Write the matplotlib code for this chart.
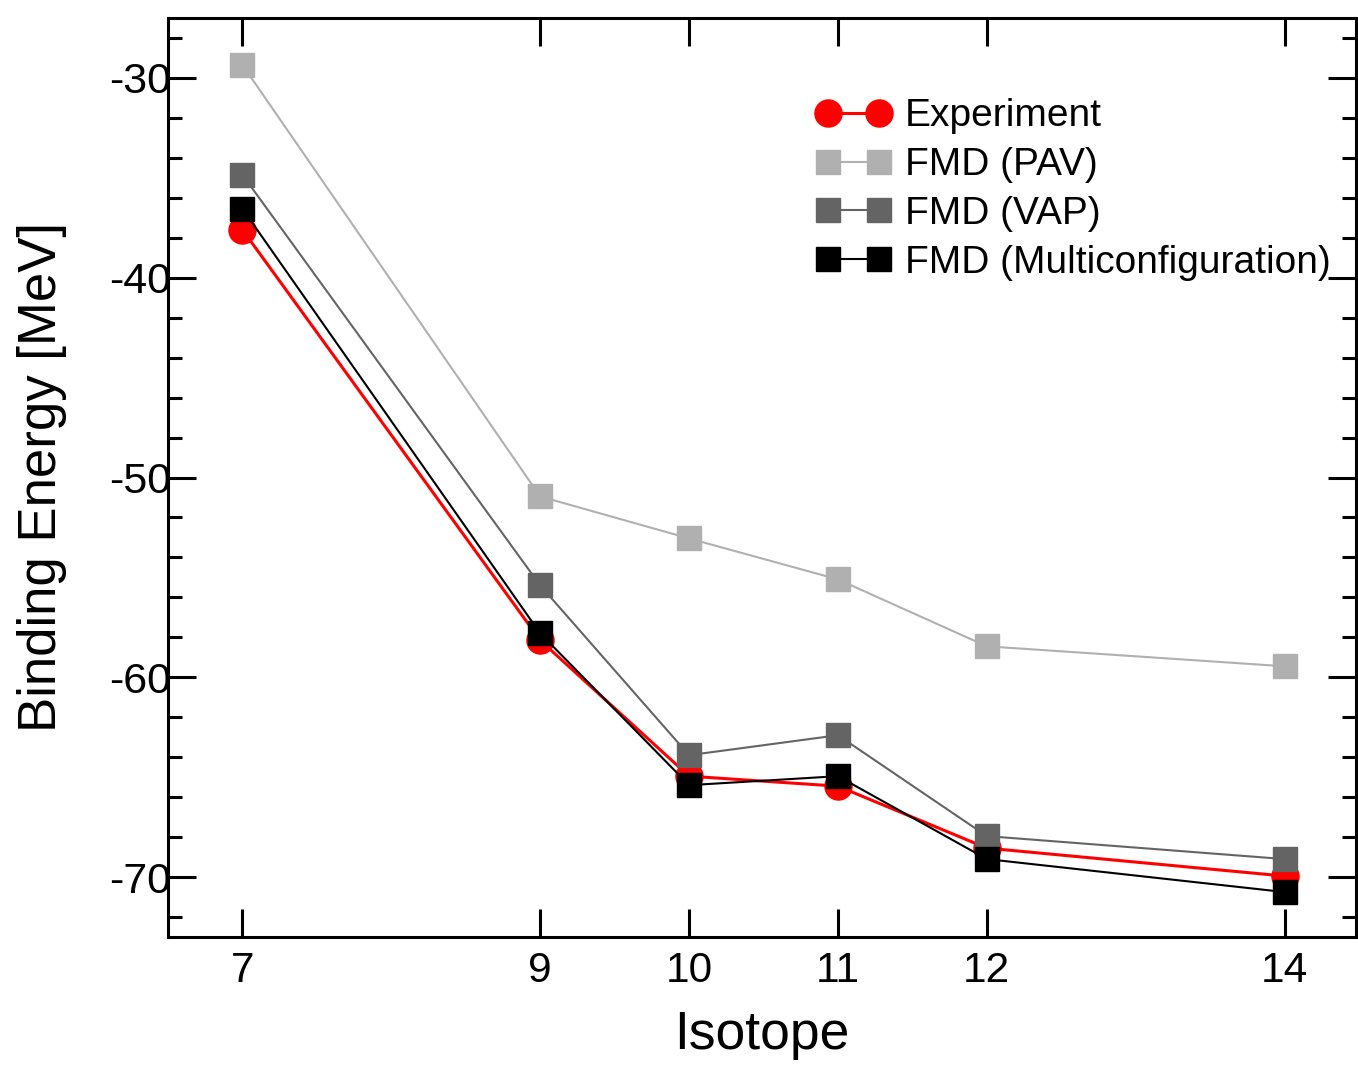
import numpy as np
import matplotlib
matplotlib.use("Agg")
import matplotlib.pyplot as plt
from matplotlib.ticker import MultipleLocator

plt.rcParams['font.family'] = ['Liberation Sans', 'DejaVu Sans']
plt.rcParams['axes.unicode_minus'] = False

# isotopes and binding energies [MeV]
isotopes = [7, 9, 10, 11, 12, 14]
experiment = [-37.6, -58.15, -64.95, -65.45, -68.55, -69.95]
fmd_pav = [-29.35, -50.95, -53.05, -55.1, -58.45, -59.45]
fmd_vap = [-34.85, -55.4, -63.9, -62.9, -67.95, -69.1]
fmd_multi = [-36.55, -57.8, -65.4, -64.95, -69.1, -70.75]

fig = plt.figure(figsize=(13.58, 10.8), dpi=100)
ax = fig.add_axes([168/1358, 143/1080, 1188/1358, 919/1080])

ax.plot(isotopes, experiment, "-o", color="#ff0000", lw=2.2, ms=19.5,
        label="Experiment")
ax.plot(isotopes, fmd_pav, "-s", color="#b0b0b0", lw=1.5, ms=17,
        label="FMD (PAV)")
ax.plot(isotopes, fmd_vap, "-s", color="#646464", lw=1.5, ms=17,
        label="FMD (VAP)")
ax.plot(isotopes, fmd_multi, "-s", color="black", lw=1.5, ms=17,
        label="FMD (Multiconfiguration)")

ax.set_xlim(6.5, 14.48)
ax.set_ylim(-73, -27)
ax.set_xticks(isotopes)
ax.yaxis.set_major_locator(MultipleLocator(10))
ax.yaxis.set_minor_locator(MultipleLocator(2))

ax.tick_params(which="both", direction="in", top=True, right=True, width=2.2)
ax.tick_params(axis="x", pad=10, labelsize=30.5)
ax.tick_params(axis="y", pad=-2, labelsize=31)
ax.tick_params(which="major", length=20)
ax.tick_params(which="minor", length=10)
for s in ax.spines.values():
    s.set_linewidth(2.2)

ax.set_xlabel("Isotope", fontsize=38.5, labelpad=14)
ax.set_ylabel("Binding Energy [MeV]", fontsize=38, labelpad=30)

ax.legend(loc="upper right", bbox_to_anchor=(1.0, 0.94), frameon=False,
          fontsize=28, numpoints=2, handlelength=1.91, handletextpad=0.38,
          labelspacing=0.33, borderaxespad=0.25)

fig.savefig("out.png", dpi=100)
